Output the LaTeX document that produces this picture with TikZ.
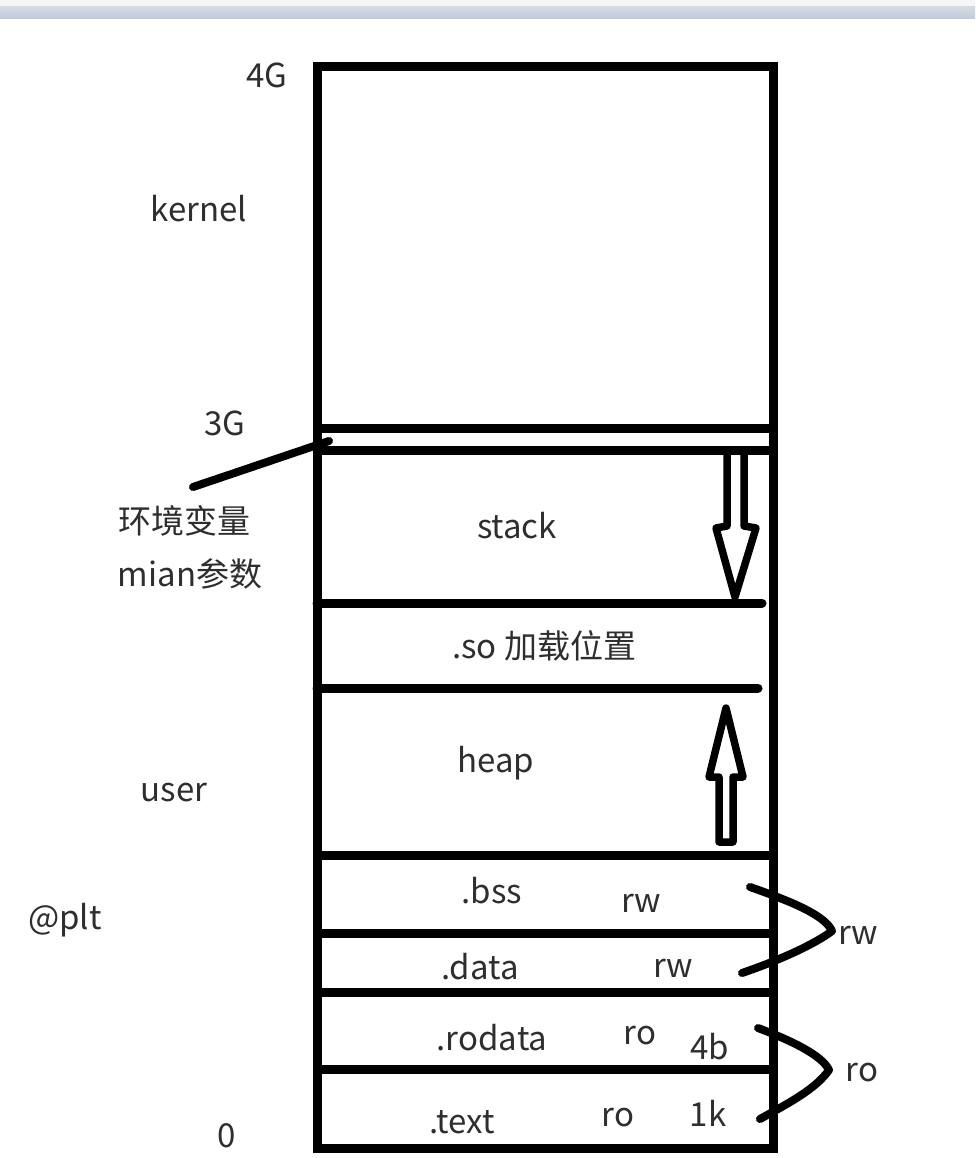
\documentclass[tikz,border=0pt]{standalone}
\usepackage{fontspec}
\setmainfont{Noto Sans CJK SC}
\definecolor{bandtop}{RGB}{212,219,229}
\definecolor{bandbot}{RGB}{192,202,216}
\definecolor{toolbar}{RGB}{246,246,247}
\begin{document}
\begin{tikzpicture}[x=1pt,y=-1pt,
  wall/.style={line width=9pt, draw=black},
  shortline/.style={line width=9pt, draw=black, line cap=round},
  pen/.style={line width=8pt, draw=black, line cap=round, line join=round},
  hollow/.style={line width=7.5pt, draw=black, line join=round, line cap=round},
  lbl/.style={font=\fontsize{33}{40}\selectfont, text=black!82, inner sep=0pt, anchor=center}]
\useasboundingbox (0,0) rectangle (975,1158);
\fill[white] (0,0) rectangle (975,1158);
% screenshot band at top
\fill[toolbar] (0,0) rectangle (975,7);
\fill[top color=bandtop, bottom color=bandbot] (0,7) rectangle (975,19);

% named corners of the layout
\coordinate (tl) at (317,67);
\coordinate (br) at (773,1148);

% outer frame
\draw[wall, line join=miter] (tl) rectangle (br);
% region boundaries
\draw[wall] (317,428) -- (773,428);
\draw[wall] (317,450) -- (773,450);
\draw[shortline] (317,603) -- (762,603);
\draw[shortline] (317,688) -- (758,688);
\draw[wall] (317,855) -- (773,855);
\draw[wall] (317,933) -- (773,933);
\draw[wall] (317,992) -- (773,992);
\draw[wall] (317,1069) -- (773,1069);

% stack grows down (hollow arrow)
\draw[hollow] (727,455) -- (727,526) -- (716,528) -- (735,597) -- (756,528) -- (744,526) -- (744,455);
% heap grows up (hollow arrow)
\draw[hollow] (719,842) -- (719,777) -- (709,777) -- (726,708) -- (743,777) -- (733,777) -- (733,842) -- cycle;

% labels left
\node[lbl] (g4) at (267,75) {4G};
\node[lbl] (kernel) at (199,209) {kernel};
\node[lbl] (g3) at (225,423) {3G};
\node[lbl] (env) at (184,521) {环境变量};
\node[lbl] (margs) at (190,574) {mian参数};
\node[lbl] (user) at (174,793) {user};
\node[lbl] (plt) at (65,920) {@plt};
\node[lbl] (zero) at (227,1136) {0};

% pointer from env/args to the 3G boundary
\coordinate (envtip) at (329,441);
\draw[pen] (193,487) -- (envtip);

% region labels
\node[lbl] (stack) at (517,526) {stack};
\node[lbl] (so) at (544,646) {.so 加载位置};
\node[lbl] (heap) at (496,763) {heap};
\node[lbl] (bss) at (492,891) {.bss};
\node[lbl] (bssrw) at (641,903) {rw};
\node[lbl] (data) at (480,967) {.data};
\node[lbl] (datarw) at (673,968) {rw};
\node[lbl] (rodata) at (492,1038) {.rodata};
\node[lbl] (rodataro) at (640,1036) {ro};
\node[lbl] (fourb) at (710,1047) {4b};
\node[lbl] (text) at (462,1122) {.text};
\node[lbl] (textro) at (618,1118) {ro};
\node[lbl] (onek) at (708,1113) {1k};

% braces on the right
\coordinate (rwa) at (750,887);
\coordinate (rwm) at (832,931);
\coordinate (rwb) at (742,973);
\draw[pen] (rwa) .. controls (790,901) and (825,915) .. (rwm) .. controls (815,944) and (780,960) .. (rwb);
\node[lbl] (rwall) at (858,935) {rw};

\coordinate (roa) at (758,1028);
\coordinate (rom) at (829,1070);
\coordinate (rob) at (760,1119);
\draw[pen] (roa) .. controls (790,1040) and (822,1055) .. (rom) .. controls (815,1090) and (785,1105) .. (rob);
\node[lbl] (roall) at (862,1073) {ro};
\end{tikzpicture}
\end{document}
